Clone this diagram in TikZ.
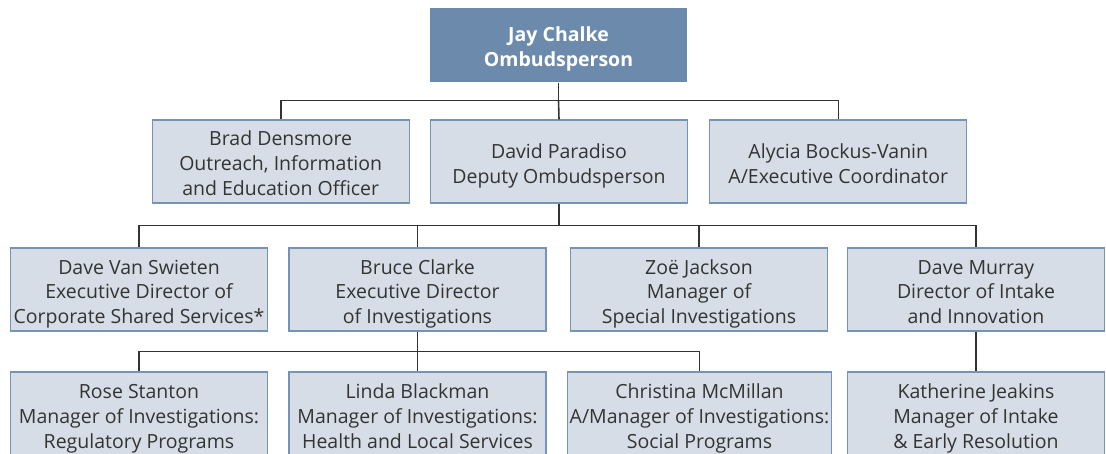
\documentclass[tikz,border=0pt]{standalone}
\usepackage{fontspec}
\setmainfont{Open Sans}
\usetikzlibrary{positioning,calc}
\definecolor{ink}{HTML}{333333}
\definecolor{frame}{HTML}{7593B6}
\definecolor{paperblue}{HTML}{D7DDE6}
\definecolor{headblue}{HTML}{6C8BAC}
\newcommand{\topstrut}{\rule{0pt}{24pt}}
\newcommand{\botstrut}{\rule[-5pt]{0pt}{5pt}}
\tikzset{box/.style={draw=frame,line width=1.3pt,fill=paperblue,align=center,text=ink,minimum width=257pt,minimum height=83pt,inner xsep=2pt,inner ysep=0pt,font=\fontsize{19.5}{25}\selectfont},head/.style={box,draw=none,fill=headblue,text=white,minimum height=74pt,font=\fontsize{19.5}{25}\selectfont\bfseries},link/.style={draw=ink,line width=1.6pt}}
\begin{document}
\begin{tikzpicture}[x=1pt,y=-1pt]
\useasboundingbox[fill=white] (0,0) rectangle (1106,454);
\node[head] (chalke) at (558.5,45) {\topstrut Jay Chalke\\Ombudsperson\botstrut};
\node[box] (paradiso) at (559,161.5) {\topstrut David Paradiso\\Deputy Ombudsperson\botstrut};
\node[box,left=20pt of paradiso] (densmore) {\topstrut Brad Densmore\\Outreach, Information\\and Education Officer\botstrut};
\node[box,right=21pt of paradiso] (bockus) {\topstrut Alycia Bockus-Vanin\\A/Executive Coordinator\botstrut};
\node[box] (swieten) at (139,289.5) {\topstrut Dave Van Swieten\\Executive Director of\\Corporate Shared Services*\botstrut};
\node[box] (clarke) at (417.5,289.5) {\topstrut Bruce Clarke\\Executive Director\\of Investigations\botstrut};
\node[box] (jackson) at (699,289.5) {\topstrut Zoë Jackson\\Manager of\\Special Investigations\botstrut};
\node[box] (murray) at (976,289.5) {\topstrut Dave Murray\\Director of Intake\\and Innovation\botstrut};
\node[box] (stanton) at (139,413.5) {\topstrut Rose Stanton\\Manager of Investigations:\\Regulatory Programs\botstrut};
\node[box] (blackman) at (417.5,413.5) {\topstrut Linda Blackman\\Manager of Investigations:\\Health and Local Services\botstrut};
\node[box] (mcmillan) at (699.5,413.5) {\topstrut Christina McMillan\\A/Manager of Investigations:\\Social Programs\botstrut};
\node[box] (jeakins) at (976,413.5) {\topstrut Katherine Jeakins\\Manager of Intake\\\& Early Resolution\botstrut};
\draw[link] (chalke.south) -- ++(0,18) coordinate (bus1);
\draw[link] (densmore.north) |- (bus1) -| (bockus.north);
\draw[link] (bus1) -- (paradiso.north);
\draw[link] (paradiso.south) -- ++(0,22) coordinate (bus2);
\draw[link] (swieten.north) |- (bus2) -| (murray.north);
\draw[link] (clarke.north) |- (bus2);
\draw[link] (jackson.north) |- (bus2);
\draw[link] (clarke.south) -- ++(0,20) coordinate (bus3);
\draw[link] (stanton.north) |- (bus3) -| (mcmillan.north);
\draw[link] (bus3) -- (blackman.north);
\draw[link] (murray.south) -- (jeakins.north);
\end{tikzpicture}
\end{document}
